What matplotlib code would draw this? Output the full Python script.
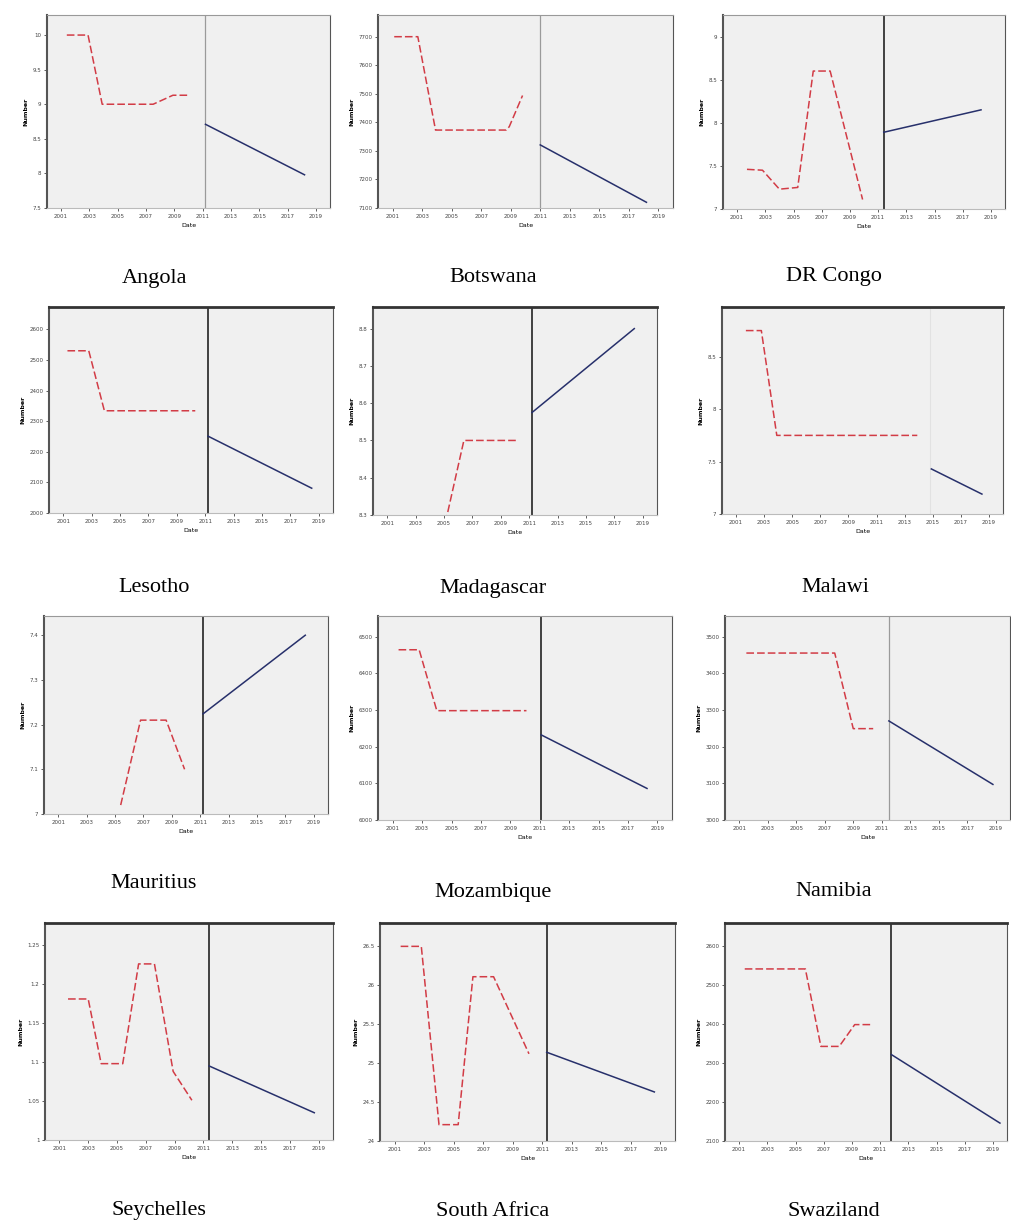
import numpy as np
from matplotlib import pyplot as plt

# country panels, left to right, top to bottom
countries = ["Angola", "Botswana", "DR Congo",
             "Lesotho", "Madagascar", "Malawi",
             "Mauritius", "Mozambique", "Namibia",
             "Seychelles", "South Africa", "Swaziland"]

# observed series (red dashed)
hist_x = [
    [2001.4, 2002.9, 2003.9, 2007.5, 2008.9, 2010.0],
    [2001.1, 2002.7, 2003.9, 2008.7, 2008.9, 2009.8],
    [2001.7, 2002.8, 2004.0, 2005.3, 2006.4, 2007.6, 2009.9],
    [2001.3, 2002.8, 2003.9, 2010.3],
    [2005.1, 2006.4, 2010.1],
    [2001.7, 2002.8, 2003.9, 2013.9],
    [2005.4, 2006.8, 2008.6, 2009.9],
    [2001.4, 2002.8, 2004.0, 2010.1],
    [2001.5, 2007.7, 2009.0, 2010.4],
    [2001.6, 2003.0, 2003.9, 2005.4, 2006.5, 2007.6, 2008.9, 2010.2],
    [2001.4, 2002.8, 2004.0, 2005.3, 2006.3, 2007.7, 2010.1],
    [2001.4, 2005.7, 2006.8, 2008.1, 2009.2, 2010.4],
]
hist_y = [
    [10.0, 10.0, 9.0, 9.0, 9.13, 9.13],
    [7700, 7700, 7373, 7373, 7385, 7494],
    [7.46, 7.45, 7.23, 7.25, 8.60, 8.60, 7.11],
    [2530, 2530, 2334, 2334],
    [8.28, 8.50, 8.50],
    [8.75, 8.75, 7.75, 7.75],
    [7.02, 7.21, 7.21, 7.10],
    [6464, 6464, 6298, 6298],
    [3455, 3455, 3249, 3249],
    [1.181, 1.181, 1.098, 1.098, 1.226, 1.226, 1.088, 1.051],
    [26.50, 26.50, 24.21, 24.21, 26.11, 26.11, 25.12],
    [2542, 2542, 2343, 2343, 2399, 2399],
]

# forecast series (blue solid)
fc_x = [
    [2011.2, 2018.2], [2011.0, 2018.2], [2011.4, 2018.3],
    [2011.2, 2018.5], [2011.2, 2018.4], [2014.9, 2018.5],
    [2011.2, 2018.4], [2011.1, 2018.3], [2011.5, 2018.8],
    [2011.4, 2018.7], [2011.3, 2018.6], [2011.8, 2019.5],
]
fc_y = [
    [8.71, 7.98], [7321, 7120], [7.89, 8.15],
    [2251, 2081], [8.575, 8.80], [7.43, 7.19],
    [7.224, 7.40], [6232, 6086], [3270, 3097],
    [1.095, 1.035], [25.14, 24.63], [2322, 2146],
]

# where history ends and forecast begins
split_x = [2011.2, 2011.0, 2011.4, 2011.2, 2011.2, 2014.8,
           2011.2, 2011.1, 2011.5, 2011.4, 2011.3, 2011.8]

y_ticks = [
    [7.5, 8.0, 8.5, 9.0, 9.5, 10.0],
    [7100, 7200, 7300, 7400, 7500, 7600, 7700],
    [7.0, 7.5, 8.0, 8.5, 9.0],
    [2000, 2100, 2200, 2300, 2400, 2500, 2600],
    [8.3, 8.4, 8.5, 8.6, 8.7, 8.8],
    [7.0, 7.5, 8.0, 8.5],
    [7.0, 7.1, 7.2, 7.3, 7.4],
    [6000, 6100, 6200, 6300, 6400, 6500],
    [3000, 3100, 3200, 3300, 3400, 3500],
    [1.00, 1.05, 1.10, 1.15, 1.20, 1.25],
    [24.0, 24.5, 25.0, 25.5, 26.0, 26.5],
    [2100, 2200, 2300, 2400, 2500, 2600],
]
# head room above the last tick, in tick steps
y_head = [0.58, 0.76, 0.5, 0.73, 0.58, 0.95,
          0.43, 0.56, 0.56, 0.57, 0.6, 0.6]
x_ticks = list(range(2001, 2021, 2))
x_labels = [str(y) for y in x_ticks]

# pixel boxes (left, right, top, bottom) and caption positions
W, H = 1012, 1223
boxes = [
    (47, 330, 15, 208), (378, 673, 15, 208), (723, 1005, 15, 209),
    (49, 333, 307, 513), (373, 657, 307, 515), (722, 1003, 307, 514),
    (44, 328, 616, 814), (378, 672, 616, 820), (725, 1010, 616, 820),
    (45, 333, 923, 1140), (380, 675, 923, 1141), (725, 1007, 923, 1141),
]
captions = [
    (155, 278), (493, 277), (834, 277),
    (154, 588), (493, 588), (835, 588),
    (154, 884), (493, 892), (834, 891),
    (159, 1211), (493, 1211), (834, 1211),
]
split_dark = [False, False, True, True, True, False,
              True, True, False, True, True, True]
top_dark = [False, False, False, True, True, True,
            False, False, False, True, True, True]

plt.rcParams['font.family'] = ['DejaVu Sans']

fig = plt.figure(figsize=(W / 100, H / 100), dpi=100)

for i, name in enumerate(countries):
    l, r, t, b = boxes[i]
    ax = fig.add_axes([l / W, 1 - b / H, (r - l) / W, (b - t) / H])
    ax.set_facecolor("#f0f0f0")

    ax.plot(hist_x[i], hist_y[i], color="#d23c46", lw=1.1,
            linestyle=(0, (5, 2)), zorder=3)
    ax.plot(fc_x[i], fc_y[i], color="#27306b", lw=1.1, zorder=3)
    if i == 5:
        ax.axvline(split_x[i], color="#e2e2e2", lw=0.8, zorder=2)
    else:
        ax.axvline(split_x[i], color="#333333" if split_dark[i] else "#9a9a9a",
                   lw=1.3 if split_dark[i] else 0.9, zorder=2)

    yt = y_ticks[i]
    step = yt[1] - yt[0]
    ax.set_ylim(yt[0], yt[-1] + y_head[i] * step)
    ax.set_yticks(yt)
    ax.set_yticklabels([f"{v:g}" for v in yt], fontsize=4, color="#444444")
    ax.set_xlim(2000, 2020)
    ax.set_xticks(x_ticks)
    ax.set_xticklabels(x_labels, fontsize=4, color="#444444")
    ax.tick_params(length=2, width=0.6, pad=2, colors="#444444")

    ax.set_ylabel("Number", fontsize=4.5, fontweight="bold", labelpad=3)
    ax.set_xlabel("Date", fontsize=4.5, labelpad=3)

    for side, sp in ax.spines.items():
        sp.set_color("#555555")
        sp.set_linewidth(0.8)
    ax.spines["left"].set_linewidth(1.5)
    ax.spines["bottom"].set_color("#bbbbbb")
    if top_dark[i]:
        ax.spines["top"].set_color("#333333")
        ax.spines["top"].set_linewidth(2.0)
    else:
        ax.spines["top"].set_color("#999999")

    cx, cy = captions[i]
    fig.text(cx / W, 1 - cy / H, name, ha="center", va="center",
             fontsize=16, family="Liberation Serif")

fig.savefig("out.png", dpi=100)
